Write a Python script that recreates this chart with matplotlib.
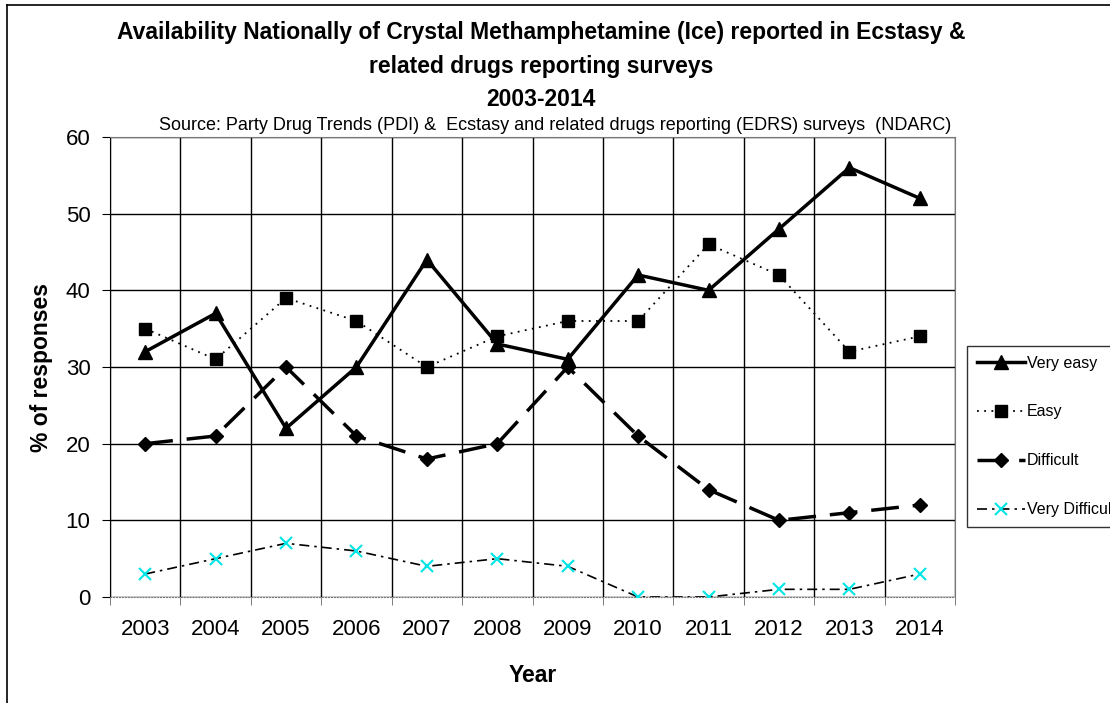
import numpy as np
import matplotlib
matplotlib.use('Agg')
import matplotlib.pyplot as plt
from matplotlib.lines import Line2D

plt.rcParams['font.family'] = ['Liberation Sans', 'DejaVu Sans']

years = ['2003', '2004', '2005', '2006', '2007', '2008', '2009', '2010', '2011', '2012', '2013', '2014']
very_easy = [32, 37, 22, 30, 44, 33, 31, 42, 40, 48, 56, 52]
easy = [35, 31, 39, 36, 30, 34, 36, 36, 46, 42, 32, 34]
difficult = [20, 21, 30, 21, 18, 20, 30, 21, 14, 10, 11, 12]
very_difficult = [3, 5, 7, 6, 4, 5, 4, 0, 0, 1, 1, 3]

fig = plt.figure(figsize=(11.1, 7.03), dpi=100)
ax = fig.add_axes([110/1110, 1-597/703, 845/1110, 460/703])
x = np.arange(len(years))

ax.plot(x, very_easy, color='black', lw=2.5, marker='^', ms=10, label='Very easy', zorder=5)
ax.plot(x, easy, color='black', lw=1.3, ls=(0, (1, 3)), marker='s', ms=8, label='Easy', zorder=5)
ax.plot(x, difficult, color='black', lw=2.5, ls=(0, (8, 4)), marker='D', ms=7, label='Difficult', zorder=5)
ax.plot(x, very_difficult, color='black', lw=1.2, ls=(0, (6, 3, 1.5, 3)), marker='x', ms=8,
        mec='#00e5e5', mew=1.5, label='Very Difficult', zorder=5)

ax.set_xlim(-0.5, len(years) - 0.5)
ax.set_ylim(0, 60)
ax.set_xticks(x)
ax.set_xticklabels(years)
ax.set_xticks(np.arange(-0.5, len(years)), minor=True)
ax.set_yticks(range(0, 61, 10))
ax.tick_params(axis='x', which='major', length=0, pad=16, labelsize=16)
ax.tick_params(axis='x', which='minor', length=6, color='#666666', direction='out')
ax.tick_params(axis='y', length=6, pad=8, labelsize=16)
ax.grid(True, axis='x', which='minor', color='black', lw=1)
ax.grid(True, axis='y', which='major', color='black', lw=1)
ax.set_axisbelow(True)
for s in ['top', 'right']:
    ax.spines[s].set_color('#777777')
ax.spines['bottom'].set_color('#777777')
ax.spines['bottom'].set_linestyle(':')
ax.spines['left'].set_color('black')

ax.set_ylabel('% of responses', fontsize=16.5, fontweight='bold', labelpad=9)
ax.set_xlabel('Year', fontsize=16.5, fontweight='bold', labelpad=17)

cx = 541 / 1110
fig.text(cx, 1 - 33/703,
         'Availability Nationally of Crystal Methamphetamine (Ice) reported in Ecstasy &',
         ha='center', va='center', fontsize=16.5, fontweight='bold')
fig.text(cx, 1 - 67/703, 'related drugs reporting surveys',
         ha='center', va='center', fontsize=16.5, fontweight='bold')
fig.text(cx, 1 - 100/703, '2003-2014',
         ha='center', va='center', fontsize=16.5, fontweight='bold')
fig.text(555 / 1110, 1 - 126/703,
         'Source: Party Drug Trends (PDI) &  Ecstasy and related drugs reporting (EDRS) surveys  (NDARC)',
         ha='center', va='center', fontsize=13)

# outer frame (cropped on right and bottom)
fig.add_artist(Line2D([7/1110, 1], [1 - 5/703, 1 - 5/703], color='black', lw=1.2))
fig.add_artist(Line2D([7/1110, 7/1110], [0, 1 - 5/703], color='black', lw=1.2))

leg = ax.legend(loc='upper left', bbox_to_anchor=(967/1110, 1 - 346/703),
                bbox_transform=fig.transFigure, frameon=True, fancybox=False,
                edgecolor='black', fontsize=11.5, handlelength=3.0, handletextpad=0.15,
                labelspacing=2.12, borderpad=0.6, borderaxespad=0)
leg.get_frame().set_linewidth(1)

fig.savefig('out.png', dpi=100)
